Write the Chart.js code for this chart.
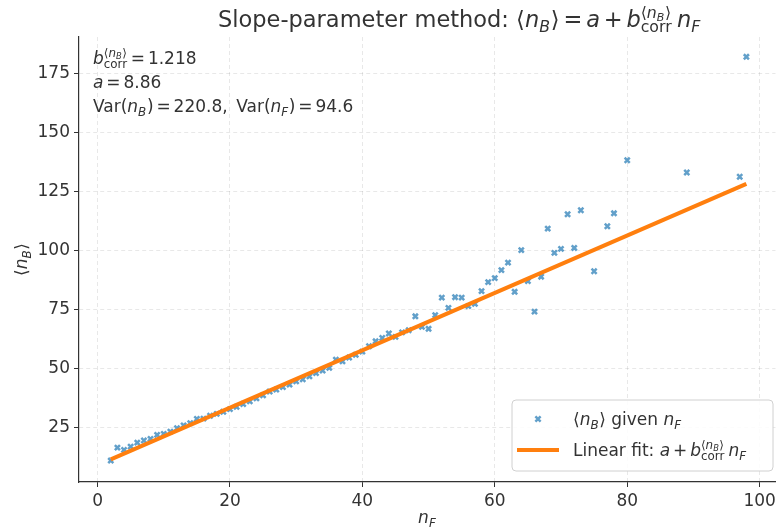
<!DOCTYPE html>
<html>
<head>
<meta charset="utf-8">
<script src="https://cdn.jsdelivr.net/npm/chart.js@4"></script>
<style>
  html, body { margin: 0; padding: 0; background: #fff; overflow: hidden; }
  #c { display: block; }
</style>
</head>
<body>
<canvas id="c" width="782" height="532"></canvas>
<script>
// n_F values (x) and the mean n_B (y)
var nF = [2, 3, 4, 5, 6, 7, 8, 9, 10, 11, 12, 13, 14, 15, 16, 17, 18, 19, 20,
  21, 22, 23, 24, 25, 26, 27, 28, 29, 30, 31, 32, 33, 34, 35, 36, 37, 38, 39, 40,
  41, 42, 43, 44, 45, 46, 47, 48, 49, 50, 51, 52, 53, 54, 55, 56, 57, 58, 59, 60,
  61, 62, 63, 64, 65, 66, 67, 68, 69, 70, 71, 72, 73, 75, 77, 78, 80, 89, 97, 98];
var meanNB = [10.8, 16.3, 15.3, 16.7, 18.4, 19.3, 20.0, 21.7, 22.1, 23.1, 24.5, 25.7, 26.7, 28.5, 28.6, 29.8, 30.6, 31.5, 32.6,
  33.6, 34.8, 35.9, 37.2, 38.5, 40.1, 40.9, 42.0, 43.0, 44.4, 45.3, 46.5, 47.9, 49.0, 50.1, 53.6, 52.9, 54.5, 55.7, 57.0,
  59.3, 61.4, 62.8, 64.7, 63.3, 65.2, 66.1, 72.0, 67.5, 66.7, 72.5, 79.9, 75.6, 80.1, 79.9, 76.3, 77.3, 82.7, 86.5, 88.2,
  91.6, 94.8, 82.4, 100.1, 86.9, 74.0, 88.8, 109.2, 98.9, 100.6, 115.3, 101.0, 117.0, 91.1, 110.2, 115.7, 138.2, 133.0, 131.2, 182.1];

// fitted line end points
var fitX = [2, 98];
var fitY = [11.3, 128.2];

var xTicks = [0, 20, 40, 60, 80, 100];
var yTicks = [25, 50, 75, 100, 125, 150, 175];

var TXT = '#333';
var FONT = '"DejaVu Sans"';

// tiny mathtext-ish renderer: strings upright, {i:..} italic, {sp:em} gap, {sup,sub} scripts
function rich(ctx, parts, x, y, size, draw) {
  var w = 0;
  parts.forEach(function (p) {
    if (p.sp) {
      w += p.sp * size;
    } else if (typeof p === 'string' || p.i) {
      var s = typeof p === 'string' ? p : p.i;
      ctx.font = (p.i ? 'italic ' : '') + size + 'px ' + FONT;
      if (draw) ctx.fillText(s, x + w, y);
      w += ctx.measureText(s).width;
    } else {
      var ss = size * 0.7, wp = 0, ws = 0;
      if (p.sup) wp = rich(ctx, p.sup, x + w, y - size * 0.42, ss, draw);
      if (p.sub) ws = rich(ctx, p.sub, x + w, y + size * 0.22, ss, draw);
      w += Math.max(wp, ws) + size * 0.04;
    }
  });
  return w;
}
function richText(ctx, parts, x, y, size, align) {
  var w = rich(ctx, parts, 0, 0, size, false);
  var x0 = align === 'center' ? x - w / 2 : x;
  rich(ctx, parts, x0, y, size, true);
  return w;
}

var G = {sp: 0.17};
function op(s) { return [G, s, G]; }

var mNB = ['\u27E8', {i: 'n'}, {sub: [{i: 'B'}]}, '\u27E9'];
var mNF = [{i: 'n'}, {sub: [{i: 'F'}]}];
var mB = [{i: 'b'}, {sup: mNB, sub: ['corr']}];

var titleParts = ['Slope-parameter method: '].concat(mNB, op('='), [{i: 'a'}], op('+'), mB, [{sp: 0.2}], mNF);
var statLines = [
  mB.concat(op('='), ['1.218']),
  [{i: 'a'}].concat(op('='), ['8.86']),
  ['Var(', {i: 'n'}, {sub: [{i: 'B'}]}, ')'].concat(op('='), ['220.8,', {sp: 0.5}, 'Var('], mNF, [')'], op('='), ['94.6'])
];
var legScatter = mNB.concat([' given '], mNF);
var legLine = ['Linear fit: ', {i: 'a'}].concat(op('+'), mB, [{sp: 0.2}], mNF);

var decor = {
  id: 'decor',
  afterDraw: function (chart) {
    var ctx = chart.ctx, a = chart.chartArea;
    ctx.save();
    ctx.fillStyle = TXT;
    ctx.textBaseline = 'alphabetic';
    richText(ctx, titleParts, 218, 27, 22.5, 'left');
    richText(ctx, statLines[0], 93, 64, 17, 'left');
    richText(ctx, statLines[1], 93, 88, 17, 'left');
    richText(ctx, statLines[2], 93, 112, 17, 'left');
    richText(ctx, mNF, (a.left + a.right) / 2, 523, 17, 'center');
    ctx.save();
    ctx.translate(27, (a.top + a.bottom) / 2);
    ctx.rotate(-Math.PI / 2);
    richText(ctx, mNB, 0, 0, 17, 'center');
    ctx.restore();

    // legend box
    var bx = 512, by = 400, bw = 261, bh = 71;
    ctx.beginPath();
    ctx.roundRect(bx, by, bw, bh, 4);
    ctx.fillStyle = 'rgba(255,255,255,0.85)';
    ctx.fill();
    ctx.strokeStyle = '#d0d0d0';
    ctx.lineWidth = 1;
    ctx.stroke();

    ctx.strokeStyle = 'rgba(31,119,180,0.7)';
    ctx.lineWidth = 2.5;
    var mx = 538, my = 419, r = 2.6;
    ctx.beginPath();
    ctx.moveTo(mx - r, my - r); ctx.lineTo(mx + r, my + r);
    ctx.moveTo(mx + r, my - r); ctx.lineTo(mx - r, my + r);
    ctx.stroke();

    ctx.strokeStyle = '#ff7f0e';
    ctx.lineWidth = 4;
    ctx.beginPath();
    ctx.moveTo(517, 450); ctx.lineTo(559, 450);
    ctx.stroke();

    ctx.fillStyle = TXT;
    richText(ctx, legScatter, 573, 425, 17, 'left');
    richText(ctx, legLine, 573, 456, 17, 'left');
    ctx.restore();
  }
};

var scatterPts = nF.map(function (x, i) { return {x: x, y: meanNB[i]}; });
var fitPts = fitX.map(function (x, i) { return {x: x, y: fitY[i]}; });

function axisOpts(min, max, ticks) {
  return {
    type: 'linear',
    min: min,
    max: max,
    afterBuildTicks: function (s) { s.ticks = ticks.map(function (v) { return {value: v}; }); },
    grid: { color: 'rgba(0,0,0,0.09)', lineWidth: 1, tickLength: 5, tickColor: '#333', tickWidth: 1 },
    border: { display: true, color: '#333', width: 1.2, dash: [4, 3] },
    ticks: { color: TXT, font: { family: 'DejaVu Sans', size: 17 }, padding: 4, maxRotation: 0 }
  };
}

var xOpts = axisOpts(-2.8, 102.4, xTicks);
xOpts.afterFit = function (s) { s.height = 50; };
var yOpts = axisOpts(1.7, 190.5, yTicks);
yOpts.afterFit = function (s) { s.width = 79; };

new Chart(document.getElementById('c'), {
  type: 'scatter',
  data: {
    datasets: [
      {
        label: 'fit',
        type: 'line',
        data: fitPts,
        borderColor: '#ff7f0e',
        borderWidth: 4,
        pointRadius: 0,
        fill: false,
        order: 0
      },
      {
        label: 'given',
        data: scatterPts,
        pointStyle: 'crossRot',
        pointRadius: 3.6,
        pointBorderWidth: 2.5,
        borderColor: 'rgba(31,119,180,0.7)',
        backgroundColor: 'rgba(31,119,180,0.7)',
        order: 1
      }
    ]
  },
  options: {
    responsive: false,
    animation: false,
    layout: { padding: { top: 37, right: 1, left: 0, bottom: 0 } },
    plugins: { legend: { display: false }, tooltip: { enabled: false }, title: { display: false } },
    scales: { x: xOpts, y: yOpts }
  },
  plugins: [decor]
});
</script>
</body>
</html>
